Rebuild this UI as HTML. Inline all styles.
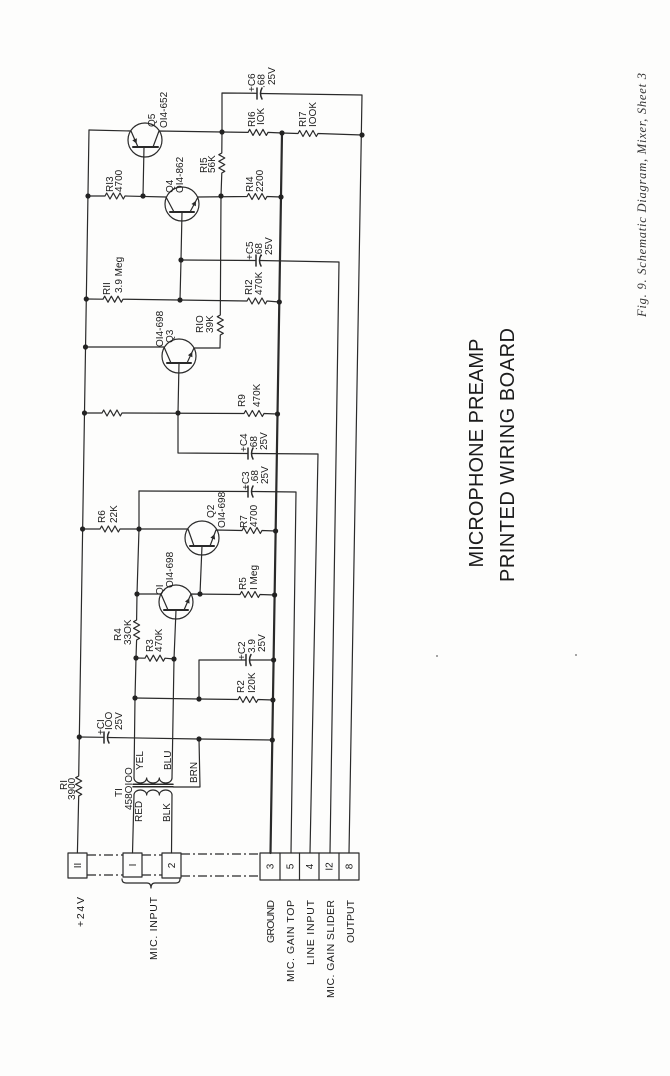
<!DOCTYPE html>
<html><head><meta charset="utf-8"><style>
html,body{margin:0;padding:0;background:#fdfdfc;}
svg{display:block;}
.t{font-family:"Liberation Sans",Arial,sans-serif;font-size:10px;fill:#1c1c1c;}
.b{font-family:"Liberation Sans",Arial,sans-serif;font-size:10.5px;fill:#1c1c1c;}
.n{font-family:"Liberation Sans",Arial,sans-serif;font-size:10px;fill:#1c1c1c;}
</style></head><body>
<svg width="670" height="1076" viewBox="0 0 670 1076" xmlns="http://www.w3.org/2000/svg">
<rect width="670" height="1076" fill="#fdfdfc"/>
<g fill="none" stroke="#2a2a2a" stroke-width="1.2" stroke-linejoin="round" stroke-linecap="round">
<path d="M89,130 L78.7,776 l-3,1.67 l6,3.33 l-6,3.33 l6,3.33 l-6,3.33 l6,3.33 l-3,1.67 L77.4,853"/>
<path d="M282,133 L270.5,853" stroke-width="2.2"/>
<path d="M89,130 L131,131 L138,147"/>
<path d="M153,147 L159,131 L222,132"/>
<circle cx="145" cy="140" r="17"/>
<path d="M133,147 H158" stroke-width="2"/>
<path d="M144,147 L143,196"/>
<path d="M222,132 L222,93 L257,93.3"/>
<path d="M257,88 V99" stroke-width="1.5"/>
<path d="M262,88 Q259,93.5 262,99" stroke-width="1.5"/>
<path d="M260.5,93.5 L362,95 L349,853"/>
<path d="M222,132 L248,132.4 l1.67,-3 l3.33,6 l3.33,-6 l3.33,6 l3.33,-6 l3.33,6 l1.67,-3 L282,133"/>
<path d="M282,133 L298,133.5 l1.67,-3 l3.33,6 l3.33,-6 l3.33,6 l3.33,-6 l3.33,6 l1.67,-3 L362,135"/>
<path d="M222,132 L221.8,153 l-3,1.67 l6,3.33 l-6,3.33 l6,3.33 l-6,3.33 l6,3.33 l-3,1.67 L221,196"/>
<path d="M88,196 L105,196 l1.67,-3 l3.33,6 l3.33,-6 l3.33,6 l3.33,-6 l3.33,6 l1.67,-3 L166,197 L174,212"/>
<circle cx="182" cy="204" r="17"/>
<path d="M170,212 H194" stroke-width="2"/>
<path d="M190,212 L198,197 L247,196.5 l1.67,-3 l3.33,6 l3.33,-6 l3.33,6 l3.33,-6 l3.33,6 l1.67,-3 L281,197"/>
<path d="M182,212 L181,260 L180,300"/>
<path d="M221,196 L220.3,315 l-3,1.67 l6,3.33 l-6,3.33 l6,3.33 l-6,3.33 l6,3.33 l-3,1.67 L220,348 L194,348 L187,363"/>
<circle cx="179" cy="356" r="17"/>
<path d="M167,363 H191" stroke-width="2"/>
<path d="M85.5,347 L164,347 L171,363"/>
<path d="M179,363 L178,413"/>
<path d="M181,260 L256,260.5"/>
<path d="M256,255 V266" stroke-width="1.5"/>
<path d="M261,255 Q258,260.5 261,266" stroke-width="1.5"/>
<path d="M259.5,260.5 L339,262 L330,853"/>
<path d="M86.3,299 L103,299.2 l1.67,-3 l3.33,6 l3.33,-6 l3.33,6 l3.33,-6 l3.33,6 l1.67,-3 L247,301 l1.67,-3 l3.33,6 l3.33,-6 l3.33,6 l3.33,-6 l3.33,6 l1.67,-3 L279.3,302"/>
<path d="M84.5,413 L102,413 l1.67,-3 l3.33,6 l3.33,-6 l3.33,6 l3.33,-6 l3.33,6 l1.67,-3 L244,413.5 l1.67,-3 l3.33,6 l3.33,-6 l3.33,6 l3.33,-6 l3.33,6 l1.67,-3 L277.5,414"/>
<path d="M178,413 L178,453 L248,453.5"/>
<path d="M248,448 V459" stroke-width="1.5"/>
<path d="M253,448 Q250,453.5 253,459" stroke-width="1.5"/>
<path d="M251.5,453.5 L318,454 L310,853"/>
<path d="M139,491 L248,491.5"/>
<path d="M248,486 V497" stroke-width="1.5"/>
<path d="M253,486 Q250,491.5 253,497" stroke-width="1.5"/>
<path d="M251.5,491.5 L296,492 L291,853"/>
<path d="M139,491 L139,529 L137,594 L136.6,620 l-3,1.67 l6,3.33 l-6,3.33 l6,3.33 l-6,3.33 l6,3.33 l-3,1.67 L136,658 L135,698 L134,778"/>
<path d="M82.6,529 L100,529 l1.67,-3 l3.33,6 l3.33,-6 l3.33,6 l3.33,-6 l3.33,6 l1.67,-3 L188,529 L194,546"/>
<circle cx="202" cy="538" r="17"/>
<path d="M190,546 H214" stroke-width="2"/>
<path d="M210,546 L216,530 L242,530.5 l1.67,-3 l3.33,6 l3.33,-6 l3.33,6 l3.33,-6 l3.33,6 l1.67,-3 L275.6,531"/>
<path d="M202,546 L200,594"/>
<path d="M137,594 L161,594 L168,610"/>
<circle cx="176" cy="602" r="17"/>
<path d="M164,610 H188" stroke-width="2"/>
<path d="M184,610 L191,594 L240,594.5 l1.67,-3 l3.33,6 l3.33,-6 l3.33,6 l3.33,-6 l3.33,6 l1.67,-3 L274.6,595"/>
<path d="M176,610 L174,659 L172,778"/>
<path d="M136,658 L145,658.2 l1.67,-3 l3.33,6 l3.33,-6 l3.33,6 l3.33,-6 l3.33,6 l1.67,-3 L174,659"/>
<path d="M135,698 L199,699 L238,699.5 l1.67,-3 l3.33,6 l3.33,-6 l3.33,6 l3.33,-6 l3.33,6 l1.67,-3 L272.9,700"/>
<path d="M199,699 L199,660 L246,660"/>
<path d="M246,654.5 V665.5" stroke-width="1.5"/>
<path d="M251,654.5 Q248,660 251,665.5" stroke-width="1.5"/>
<path d="M249.5,660 L273.6,660"/>
<path d="M79.3,737 L104,737.3"/>
<path d="M104,732 V743" stroke-width="1.5"/>
<path d="M109,732 Q106,737.5 109,743" stroke-width="1.5"/>
<path d="M107.5,737.5 L199,739 L272.3,740"/>
<path d="M199,739 L200,787 L173,787"/>
<path d="M134,778 a6.33,5 0 0 0 12.67,0 a6.33,5 0 0 0 12.67,0 a6.33,5 0 0 0 12.67,0"/>
<path d="M133,784.3 H173 M133,786.8 H173" stroke-width="1.5"/>
<path d="M134,795 a6.33,5 0 0 1 12.67,0 a6.33,5 0 0 1 12.67,0 a6.33,5 0 0 1 12.67,0"/>
<path d="M134,795 L132.5,853"/>
<path d="M172,795 L171.5,853"/>
<rect x="68" y="853" width="19" height="25"/>
<rect x="123" y="853" width="19" height="24"/>
<rect x="162" y="853" width="19" height="25"/>
<rect x="260" y="853" width="99" height="27"/>
<path d="M280,853 V880 M299.5,853 V880 M319,853 V880 M339,853 V880"/>
<path d="M87,855 H123 M142,855 H162 M181,854 H260 M87,875 H123 M142,875 H162 M181,876 H260" stroke-dasharray="9 3 2 3" stroke-linecap="butt"/>
<path d="M122,879 q0,4 4,4 h21 q4,0 4,5 q0,-5 4,-5 h21 q4,0 4,-4"/>
</g>
<g fill="#2a2a2a" stroke="none">
<polygon points="136.6,143.8 132.3,140.2 136.9,138.2"/>
<polygon points="196,200.75 195.85,206.3 191.45,204"/>
<polygon points="192.25,351.75 192.4,357.3 187.9,355.2"/>
<polygon points="214.5,534 215.1,539.6 210.4,537.8"/>
<polygon points="189.25,598 189.5,603.6 185,601.6"/>
</g>
<g fill="#222">
<circle cx="222" cy="132" r="2.6"/><circle cx="282" cy="133" r="2.6"/><circle cx="362" cy="135" r="2.6"/>
<circle cx="88" cy="196" r="2.6"/><circle cx="143" cy="196" r="2.6"/><circle cx="221" cy="196" r="2.6"/><circle cx="281" cy="197" r="2.6"/>
<circle cx="181" cy="260" r="2.6"/><circle cx="86.3" cy="299" r="2.6"/><circle cx="180" cy="300" r="2.6"/><circle cx="279.3" cy="302" r="2.6"/>
<circle cx="85.5" cy="347" r="2.6"/><circle cx="84.5" cy="413" r="2.6"/><circle cx="178" cy="413" r="2.6"/><circle cx="277.5" cy="414" r="2.6"/>
<circle cx="82.6" cy="529" r="2.6"/><circle cx="139" cy="529" r="2.6"/><circle cx="275.6" cy="531" r="2.6"/>
<circle cx="137" cy="594" r="2.6"/><circle cx="200" cy="594" r="2.6"/><circle cx="274.6" cy="595" r="2.6"/>
<circle cx="136" cy="658" r="2.6"/><circle cx="174" cy="659" r="2.6"/><circle cx="273.6" cy="660" r="2.6"/>
<circle cx="135" cy="698" r="2.6"/><circle cx="199" cy="699" r="2.6"/><circle cx="272.9" cy="700" r="2.6"/>
<circle cx="79.3" cy="737" r="2.6"/><circle cx="199" cy="739" r="2.6"/><circle cx="272.3" cy="740" r="2.6"/>
<circle cx="437" cy="656" r="1" fill="#888"/><circle cx="576" cy="655" r="1" fill="#888"/>
</g>
<g class="t">
<text transform="translate(255,92) rotate(-90)">+C6</text>
<text transform="translate(264.5,88) rotate(-90)">.68</text>
<text transform="translate(275,85) rotate(-90)">25V</text>
<text transform="translate(155,127) rotate(-90)">Q5</text>
<text transform="translate(167,128) rotate(-90)">OI4-652</text>
<text transform="translate(255,127) rotate(-90)">RI6</text>
<text transform="translate(264,125) rotate(-90)">IOK</text>
<text transform="translate(306,127) rotate(-90)">RI7</text>
<text transform="translate(316,127) rotate(-90)">IOOK</text>
<text transform="translate(207,173) rotate(-90)">RI5</text>
<text transform="translate(215,173) rotate(-90)">56K</text>
<text transform="translate(113,192) rotate(-90)">RI3</text>
<text transform="translate(122,192) rotate(-90)">4700</text>
<text transform="translate(173,193) rotate(-90)">Q4</text>
<text transform="translate(183,193) rotate(-90)">OI4-862</text>
<text transform="translate(253,192) rotate(-90)">RI4</text>
<text transform="translate(263,192) rotate(-90)">2200</text>
<text transform="translate(253,260) rotate(-90)">+C5</text>
<text transform="translate(262,257) rotate(-90)">.68</text>
<text transform="translate(272,255) rotate(-90)">25V</text>
<text transform="translate(110,295) rotate(-90)">RII</text>
<text transform="translate(122,293) rotate(-90)">3.9 Meg</text>
<text transform="translate(252,295) rotate(-90)">RI2</text>
<text transform="translate(262,295) rotate(-90)">470K</text>
<text transform="translate(163,347) rotate(-90)">OI4-698</text>
<text transform="translate(173,343) rotate(-90)">Q3</text>
<text transform="translate(203,333) rotate(-90)">RIO</text>
<text transform="translate(213,333) rotate(-90)">39K</text>
<text transform="translate(245,407) rotate(-90)">R9</text>
<text transform="translate(260,407) rotate(-90)">470K</text>
<text transform="translate(247,452) rotate(-90)">+C4</text>
<text transform="translate(257,450) rotate(-90)">.68</text>
<text transform="translate(267,450) rotate(-90)">25V</text>
<text transform="translate(249,490) rotate(-90)">+C3</text>
<text transform="translate(258,484) rotate(-90)">.68</text>
<text transform="translate(268,484) rotate(-90)">25V</text>
<text transform="translate(105,523) rotate(-90)">R6</text>
<text transform="translate(117,523) rotate(-90)">22K</text>
<text transform="translate(214,518) rotate(-90)">Q2</text>
<text transform="translate(225,528) rotate(-90)">OI4-698</text>
<text transform="translate(247,528) rotate(-90)">R7</text>
<text transform="translate(257,527) rotate(-90)">4700</text>
<text transform="translate(163,595) rotate(-90)">QI</text>
<text transform="translate(173,588) rotate(-90)">OI4-698</text>
<text transform="translate(246,590) rotate(-90)">R5</text>
<text transform="translate(257,590) rotate(-90)">I Meg</text>
<text transform="translate(121,641) rotate(-90)">R4</text>
<text transform="translate(131,645) rotate(-90)">33OK</text>
<text transform="translate(153,652) rotate(-90)">R3</text>
<text transform="translate(162,652) rotate(-90)">470K</text>
<text transform="translate(245,660) rotate(-90)">+C2</text>
<text transform="translate(255,653) rotate(-90)">3.9</text>
<text transform="translate(265,652) rotate(-90)">25V</text>
<text transform="translate(244,693) rotate(-90)">R2</text>
<text transform="translate(255,693) rotate(-90)">I20K</text>
<text transform="translate(104,735) rotate(-90)">+CI</text>
<text transform="translate(112,730) rotate(-90)">IOO</text>
<text transform="translate(122,730) rotate(-90)">25V</text>
<text transform="translate(67,790) rotate(-90)">RI</text>
<text transform="translate(75,800) rotate(-90)">3900</text>
<text transform="translate(122,797) rotate(-90)">TI</text>
<text transform="translate(132,810) rotate(-90)">458OIOO</text>
<text transform="translate(143,770) rotate(-90)">YEL</text>
<text transform="translate(171,770) rotate(-90)">BLU</text>
<text transform="translate(142,822) rotate(-90)">RED</text>
<text transform="translate(170,822) rotate(-90)">BLK</text>
<text transform="translate(197,783) rotate(-90)">BRN</text>
</g>
<g class="n" text-anchor="middle">
<text transform="translate(81,865.5) rotate(-90)">II</text>
<text transform="translate(136,865) rotate(-90)">I</text>
<text transform="translate(175,865.5) rotate(-90)">2</text>
<text transform="translate(273.6,866.5) rotate(-90)">3</text>
<text transform="translate(293.3,866.5) rotate(-90)">5</text>
<text transform="translate(312.9,866.5) rotate(-90)">4</text>
<text transform="translate(332.6,866.5) rotate(-90)">I2</text>
<text transform="translate(352.5,866.5) rotate(-90)">8</text>
</g>
<g class="b" text-anchor="end">
<text transform="translate(84,897) rotate(-90)" textLength="30" lengthAdjust="spacing">+24V</text>
<text transform="translate(157,897) rotate(-90)" textLength="63" lengthAdjust="spacing">MIC. INPUT</text>
<text transform="translate(274,900) rotate(-90)" textLength="43" lengthAdjust="spacing">GROUND</text>
<text transform="translate(294,900) rotate(-90)" textLength="82" lengthAdjust="spacing">MIC. GAIN TOP</text>
<text transform="translate(314,900) rotate(-90)" textLength="65" lengthAdjust="spacing">LINE INPUT</text>
<text transform="translate(334,900) rotate(-90)" textLength="98" lengthAdjust="spacing">MIC. GAIN SLIDER</text>
<text transform="translate(354,900) rotate(-90)" textLength="43" lengthAdjust="spacing">OUTPUT</text>
</g>
<g font-family="'Liberation Sans',Arial,sans-serif" font-size="20" fill="#1c1c1c" text-anchor="middle">
<text transform="translate(483,453) rotate(-90)" textLength="229" lengthAdjust="spacing">MICROPHONE PREAMP</text>
<text transform="translate(514,455) rotate(-90)" textLength="254" lengthAdjust="spacing">PRINTED WIRING BOARD</text>
</g>
<text font-family="'Liberation Serif',serif" font-style="italic" font-size="12.5" fill="#333" text-anchor="middle" transform="translate(646,195) rotate(-90)" textLength="244" lengthAdjust="spacing">Fig. 9. Schematic Diagram, Mixer, Sheet 3</text>
</svg>
</body></html>
